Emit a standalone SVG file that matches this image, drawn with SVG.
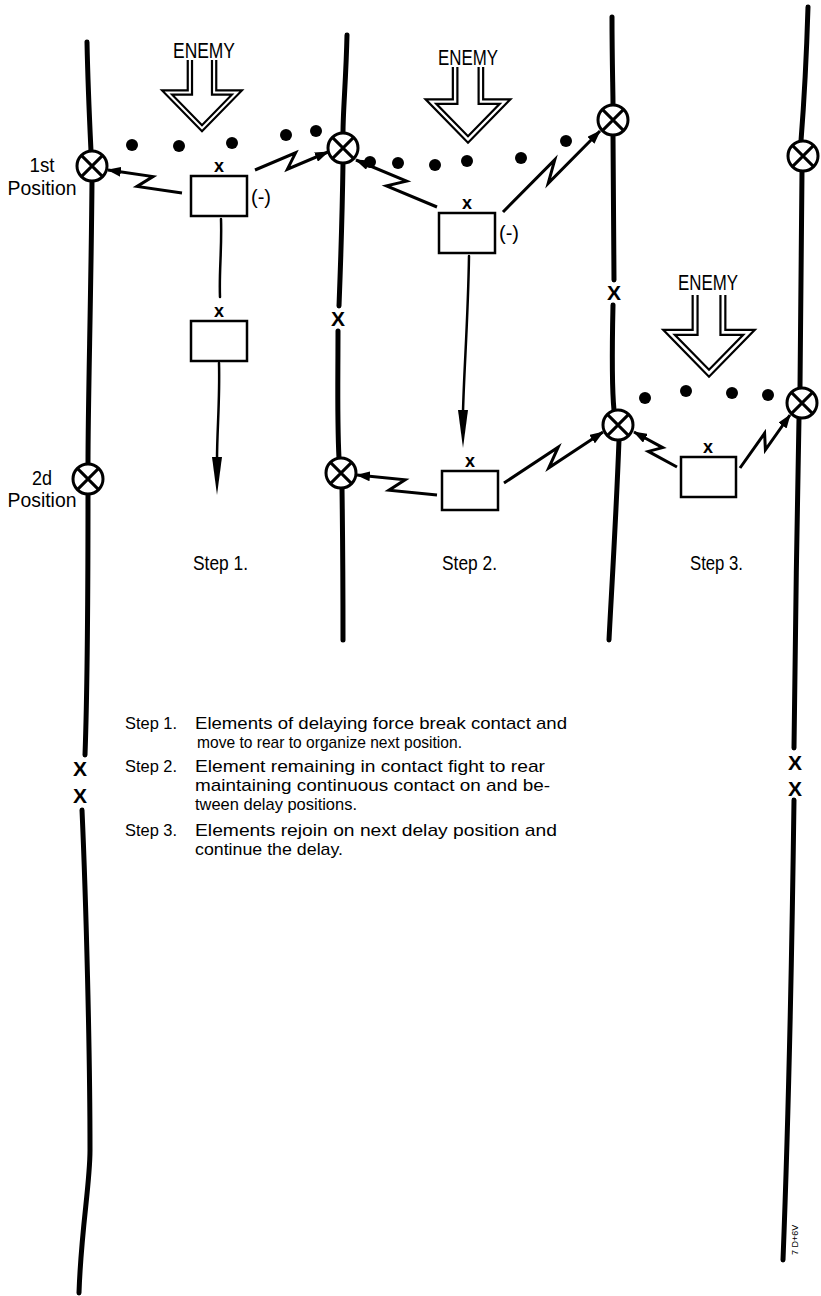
<svg xmlns="http://www.w3.org/2000/svg" width="821" height="1296" viewBox="0 0 821 1296">
<style>
.ln{fill:none;stroke:#000;stroke-width:5;stroke-linecap:round}
.pos circle{fill:#fff;stroke:#000;stroke-width:3}
.pos path{fill:none;stroke:#000;stroke-width:3}
.box{fill:#fff;stroke:#000;stroke-width:2.5}
.zz{fill:none;stroke:#000;stroke-width:3;stroke-linejoin:miter;marker-end:url(#ah)}
.mv{fill:none;stroke:#000;stroke-width:2.5;stroke-linecap:round}
.dot{fill:#000}
.en{fill:none;stroke:#000;stroke-width:2.2;stroke-linejoin:miter;vector-effect:non-scaling-stroke}
text{font-family:"Liberation Sans Narrow","Liberation Sans",Arial,sans-serif;fill:#000}
.t{font-size:20px}
.lg{font-size:17px}
.lbl{font-size:20px;text-anchor:middle}
.xl{font-size:18px;font-weight:bold;text-anchor:middle}
.xx{font-size:21px;font-weight:bold;text-anchor:middle}
.enl{font-size:22px;text-anchor:middle}
</style>
<defs>
<marker id="ah" markerWidth="14" markerHeight="10" refX="13" refY="5" orient="auto" markerUnits="userSpaceOnUse"><path d="M0,0 L14,5 L0,10 Z" fill="#000"/></marker>
<path id="enemyArrow" class="en" d="M-15,0V32H-42L0,75L42,32H15V0M-10.5,0V36.5H-31.4L0,68.6L31.4,36.5H10.5V0"/>
</defs>

<!-- Phase lines -->
<g id="phase-lines">
<path class="ln" d="M87,42 C88,90 90,130 91,151"/>
<path class="ln" d="M92,181 C91,300 88,400 88,464"/>
<path class="ln" d="M88,494 C88,600 87,700 85,755"/>
<path class="ln" d="M82,810 C86,900 90,1050 90,1150 C90,1185 81,1230 79,1293"/>

<path class="ln" d="M347,35 C346,80 343,110 343,133"/>
<path class="ln" d="M343,163 C342,230 340,280 339,306"/>
<path class="ln" d="M338,331 C338,380 337,420 339,458"/>
<path class="ln" d="M342,488 C343,560 343,600 343,640"/>

<path class="ln" d="M612,17 C612,60 613,90 613,105"/>
<path class="ln" d="M613,135 C613,200 614,250 614,280"/>
<path class="ln" d="M613,305 C612,350 612,390 614,410"/>
<path class="ln" d="M619,440 C616,520 611,600 609,640"/>

<path class="ln" d="M808,7 C807,40 805,90 801,141"/>
<path class="ln" d="M802,171 C801,250 800,320 800,388"/>
<path class="ln" d="M799,418 C797,520 795,650 794,748"/>
<path class="ln" d="M794,800 C792,950 790,1080 783,1260"/>

<text class="xx" x="80" y="776">X</text>
<text class="xx" x="80" y="803">X</text>
<text class="xx" x="338" y="326">X</text>
<text class="xx" x="614" y="300">X</text>
<text class="xx" x="795" y="770">X</text>
<text class="xx" x="795" y="796">X</text>
</g>

<!-- Position markers -->
<g id="pos-A1" class="pos"><circle cx="92" cy="166" r="15"/><path d="M81.4,155.4L102.6,176.6M102.6,155.4L81.4,176.6"/></g>
<g id="pos-A2" class="pos"><circle cx="88" cy="479" r="15"/><path d="M77.4,468.4L98.6,489.6M98.6,468.4L77.4,489.6"/></g>
<g id="pos-B1" class="pos"><circle cx="343" cy="148" r="15"/><path d="M332.4,137.4L353.6,158.6M353.6,137.4L332.4,158.6"/></g>
<g id="pos-B2" class="pos"><circle cx="341" cy="473" r="15"/><path d="M330.4,462.4L351.6,483.6M351.6,462.4L330.4,483.6"/></g>
<g id="pos-C1" class="pos"><circle cx="613" cy="120" r="15"/><path d="M602.4,109.4L623.6,130.6M623.6,109.4L602.4,130.6"/></g>
<g id="pos-C2" class="pos"><circle cx="618" cy="425" r="15"/><path d="M607.4,414.4L628.6,435.6M628.6,414.4L607.4,435.6"/></g>
<g id="pos-D1" class="pos"><circle cx="803" cy="156" r="15"/><path d="M792.4,145.4L813.6,166.6M813.6,145.4L792.4,166.6"/></g>
<g id="pos-D2" class="pos"><circle cx="802" cy="403" r="15"/><path d="M791.4,392.4L812.6,413.6M812.6,392.4L791.4,413.6"/></g>

<g id="position-labels">
<text class="lbl" x="42" y="172" textLength="25" lengthAdjust="spacingAndGlyphs">1st</text>
<text class="lbl" x="42" y="195" textLength="69" lengthAdjust="spacingAndGlyphs">Position</text>
<text class="lbl" x="42" y="485" textLength="20" lengthAdjust="spacingAndGlyphs">2d</text>
<text class="lbl" x="42" y="507" textLength="69" lengthAdjust="spacingAndGlyphs">Position</text>
</g>

<!-- Enemy arrows -->
<g id="enemy-1">
<text class="enl" x="204" y="58" textLength="62" lengthAdjust="spacingAndGlyphs">ENEMY</text>
<use href="#enemyArrow" transform="translate(202,60) scale(0.95)"/>
</g>
<g id="enemy-2">
<text class="enl" x="468" y="65" textLength="60" lengthAdjust="spacingAndGlyphs">ENEMY</text>
<use href="#enemyArrow" transform="translate(468,67) scale(1.01)"/>
</g>
<g id="enemy-3">
<text class="enl" x="708" y="290" textLength="60" lengthAdjust="spacingAndGlyphs">ENEMY</text>
<use href="#enemyArrow" transform="translate(709,295) scale(1.09)"/>
</g>

<!-- Contact dots -->
<g id="contact-dots">
<circle class="dot" cx="132" cy="145" r="6"/>
<circle class="dot" cx="179" cy="146" r="6"/>
<circle class="dot" cx="232" cy="143" r="6"/>
<circle class="dot" cx="286" cy="135" r="6"/>
<circle class="dot" cx="316" cy="131" r="6"/>
<circle class="dot" cx="370" cy="162" r="6"/>
<circle class="dot" cx="398" cy="163" r="6"/>
<circle class="dot" cx="435" cy="165" r="6"/>
<circle class="dot" cx="467" cy="161" r="6"/>
<circle class="dot" cx="521" cy="158" r="6"/>
<circle class="dot" cx="566" cy="141" r="6"/>
<circle class="dot" cx="645" cy="398" r="6"/>
<circle class="dot" cx="686" cy="391" r="6"/>
<circle class="dot" cx="732" cy="393" r="6"/>
<circle class="dot" cx="768" cy="395" r="6"/>
</g>

<!-- Units -->
<g id="unit-s1a"><rect class="box" x="191" y="176" width="56" height="40"/><text class="xl" x="219" y="172">x</text><text class="t" x="251" y="204">(-)</text></g>
<g id="unit-s1b"><rect class="box" x="191" y="321" width="56" height="40"/><text class="xl" x="219" y="317">x</text></g>
<g id="unit-s2a"><rect class="box" x="439" y="213" width="56" height="40"/><text class="xl" x="467" y="209">x</text><text class="t" x="499" y="240">(-)</text></g>
<g id="unit-s2b"><rect class="box" x="442" y="471" width="56" height="39"/><text class="xl" x="470" y="467">x</text></g>
<g id="unit-s3"><rect class="box" x="681" y="457" width="55" height="40"/><text class="xl" x="708" y="453">x</text></g>

<!-- Connectors -->
<g id="connectors">
<path class="zz" d="M182,193 L137,186.4 L153,176.6 L108,170"/>
<path class="zz" d="M255,170 L295.6,152.8 L287.4,169.2 L328,152"/>
<path class="zz" d="M437,207 L386.5,185.8 L406.5,181.2 L356,160"/>
<path class="zz" d="M503,212 L554.8,159.6 L548.2,183.4 L600,131"/>
<path class="zz" d="M437,495 L388.9,490.2 L405.1,479.8 L357,475"/>
<path class="zz" d="M504,483 L558.2,447.2 L548.8,467.8 L603,432"/>
<path class="zz" d="M677,467 L648.3,451.4 L662.7,447.6 L634,432"/>
<path class="zz" d="M740,468 L764.6,433.2 L765.4,449.8 L790,415"/>

<path class="mv" d="M221,219 C222,250 219,270 220,297"/>
<path class="mv" d="M219,363 C220,400 217,430 217,460"/>
<path d="M212,457 L222,457 L217,495 Z" fill="#000"/>
<path class="mv" d="M469,256 C468,320 464,370 463,412"/>
<path d="M458,410 L468,410 L463,448 Z" fill="#000"/>
</g>

<!-- Step captions -->
<g id="step-captions">
<text class="t" x="193" y="570" textLength="55" lengthAdjust="spacingAndGlyphs">Step 1.</text>
<text class="t" x="442" y="570" textLength="55" lengthAdjust="spacingAndGlyphs">Step 2.</text>
<text class="t" x="690" y="570" textLength="53" lengthAdjust="spacingAndGlyphs">Step 3.</text>
</g>

<g id="legend-text">
<text class="lg" x="125" y="729" textLength="52" lengthAdjust="spacingAndGlyphs">Step 1.</text>
<text class="lg" x="195" y="729" textLength="372" lengthAdjust="spacingAndGlyphs">Elements of delaying force break contact and</text>
<text class="lg" x="197" y="748" textLength="265" lengthAdjust="spacingAndGlyphs">move to rear to organize next position.</text>
<text class="lg" x="125" y="772" textLength="52" lengthAdjust="spacingAndGlyphs">Step 2.</text>
<text class="lg" x="195" y="772" textLength="350" lengthAdjust="spacingAndGlyphs">Element remaining in contact fight to rear</text>
<text class="lg" x="195" y="791" textLength="355" lengthAdjust="spacingAndGlyphs">maintaining continuous contact on and be-</text>
<text class="lg" x="195" y="810" textLength="162" lengthAdjust="spacingAndGlyphs">tween delay positions.</text>
<text class="lg" x="125" y="836" textLength="52" lengthAdjust="spacingAndGlyphs">Step 3.</text>
<text class="lg" x="195" y="836" textLength="362" lengthAdjust="spacingAndGlyphs">Elements rejoin on next delay position and</text>
<text class="lg" x="195" y="855" textLength="148" lengthAdjust="spacingAndGlyphs">continue the delay.</text>
</g>

<text x="0" y="0" font-size="9" transform="translate(798,1255) rotate(-90)">7 D+6V</text>
</svg>
